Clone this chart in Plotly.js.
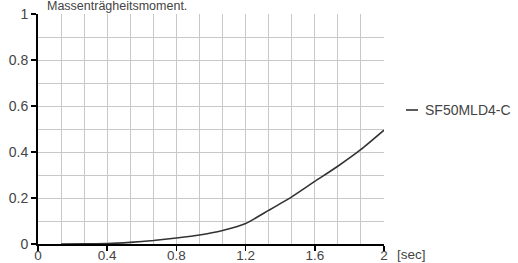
<!DOCTYPE html>
<html>
<head>
<meta charset="utf-8">
<script src="https://cdn.plot.ly/plotly-3.0.1.min.js"></script>
<style>html,body{margin:0;padding:0;background:#fff;}#chart{width:518px;height:263px;}</style>
</head>
<body>
<div id="chart"></div>
<script>
const seriesName = 'SF50MLD4-C';
const timeSec = [0.133, 0.267, 0.4, 0.533, 0.667, 0.8, 0.933, 1.067, 1.2, 1.333, 1.467, 1.6, 1.733, 1.867, 2.0];
const inertiaValues = [0, 0.001, 0.002, 0.007, 0.015, 0.026, 0.039, 0.059, 0.089, 0.146, 0.205, 0.272, 0.338, 0.411, 0.495];
const xTickVals = [0, 0.4, 0.8, 1.2, 1.6, 2];
const xTickText = ['0', '0.4', '0.8', '1.2', '1.6', '2'];
const yTickVals = [0, 0.2, 0.4, 0.6, 0.8, 1];
const yTickText = ['0', '0.2', '0.4', '0.6', '0.8', '1'];
const titleText = 'Massenträgheitsmoment.';
const xUnit = '[sec]';

const FONT = 'Liberation Sans, Arial, Helvetica, sans-serif';
const GRID = '#c8c8c8';
const TXT = '#444';

const trace = {
  x: timeSec, y: inertiaValues, type: 'scatter', mode: 'lines', name: seriesName,
  line: {color: '#333', width: 1.6, shape: 'spline', smoothing: 0.5}, showlegend: false
};

const layout = {
  width: 518, height: 263,
  margin: {l: 38, r: 134, t: 14, b: 19, pad: 0},
  paper_bgcolor: '#fff', plot_bgcolor: '#fff',
  font: {family: FONT, size: 14, color: TXT},
  xaxis: {
    range: [0, 2], tickvals: xTickVals, ticktext: xTickText,
    tickfont: {family: FONT, size: 13.5, color: TXT},
    showgrid: true, gridcolor: GRID, gridwidth: 1,
    minor: {dtick: 2/15, tick0: 0, showgrid: true, gridcolor: GRID, gridwidth: 1, ticks: ''},
    showline: true, linecolor: '#000', linewidth: 2,
    ticks: 'outside', ticklen: 5, tickwidth: 1.5, tickcolor: '#000',
    ticklabelstandoff: -7,
    zeroline: false, fixedrange: true
  },
  yaxis: {
    range: [0, 1], tickvals: yTickVals, ticktext: yTickText,
    showgrid: true, gridcolor: GRID, gridwidth: 1,
    minor: {dtick: 0.1, tick0: 0, showgrid: true, gridcolor: GRID, gridwidth: 1, ticks: ''},
    showline: true, linecolor: '#000', linewidth: 2,
    ticks: 'outside', ticklen: 5, tickwidth: 1.5, tickcolor: '#000',
    zeroline: false, fixedrange: true
  },
  shapes: [
    {type: 'line', xref: 'paper', yref: 'paper', x0: 1.0636, x1: 1.0983, y0: 0.5826, y1: 0.5826,
     line: {color: '#333', width: 1.6}}
  ],
  annotations: [
    {text: titleText, xref: 'paper', yref: 'paper', x: 0.02, y: 1.036, xanchor: 'left', yanchor: 'middle',
     showarrow: false, font: {family: FONT, size: 12.5, color: TXT}},
    {text: seriesName, xref: 'paper', yref: 'paper', x: 1.1127, y: 0.5826, xanchor: 'left', yanchor: 'middle',
     showarrow: false, font: {family: FONT, size: 14, color: TXT}},
    {text: xUnit, xref: 'paper', yref: 'paper', x: 1.032, y: -0.044, xanchor: 'left', yanchor: 'middle',
     showarrow: false, font: {family: FONT, size: 13.5, color: TXT}}
  ]
};

Plotly.newPlot('chart', [trace], layout, {displayModeBar: false, staticPlot: true});
</script>
</body>
</html>
